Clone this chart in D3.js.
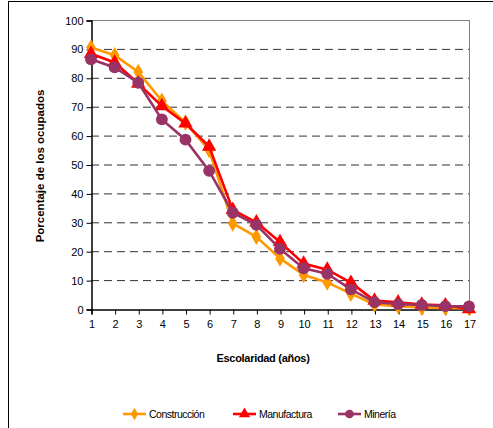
<!DOCTYPE html>
<html><head><meta charset="utf-8">
<script src="https://cdn.jsdelivr.net/npm/d3@7"></script>
<style>body{margin:0;background:#fff;overflow:hidden;}svg{display:block;font-family:Arial,"Liberation Sans",sans-serif;}</style>
</head><body>
<svg id="c" width="493" height="428"></svg>
<script>
const years = [1,2,3,4,5,6,7,8,9,10,11,12,13,14,15,16,17];
const construccion = [90.5,87.8,82,72,64.5,55,29.6,25,17.5,11.8,9.2,5.3,1.6,1,0.5,0.4,0.3];
const manufactura = [88.3,85.3,78,70.2,64.2,56.2,34.3,30,23.2,15.7,13.6,9.1,2.9,2.3,1.5,1.3,0];
const mineria = [86.4,83.6,78.3,65.6,58.6,47.8,33.3,29.1,20.8,14.1,12.2,6.8,2.4,1.7,1.4,1,0.9];
const yTicks = [0,10,20,30,40,50,60,70,80,90,100];
const seriesNames = ["Construcción","Manufactura","Minería"];
const seriesColors = ["#FF9900","#FF0000","#993366"];

const svg = d3.select("#c");
svg.append("rect").attr("x",8.5).attr("y",1.5).attr("width",540).attr("height",480)
  .attr("fill","#fff").attr("stroke","#000").attr("stroke-width",1);

const x = d3.scaleLinear().domain([1,17]).range([91,469]);
const y = d3.scaleLinear().domain([0,100]).range([309,20]);

svg.append("g").selectAll("line").data(yTicks.filter(d=>d>0 && d<100)).join("line")
  .attr("x1",91).attr("x2",469).attr("y1",d=>y(d)+0.5).attr("y2",d=>y(d)+0.5)
  .attr("stroke","#333").attr("stroke-dasharray","8,5").attr("stroke-width",1);
svg.append("line").attr("x1",91).attr("x2",469).attr("y1",y(100)+0.5).attr("y2",y(100)+0.5).attr("stroke","#808080");
svg.append("line").attr("x1",469.5).attr("x2",469.5).attr("y1",y(100)).attr("y2",y(0)).attr("stroke","#808080");

const yAxis = d3.axisLeft(y).tickValues(yTicks).tickSize(5).tickPadding(3);
const gy = svg.append("g").attr("transform","translate(91.5,0.5)").call(yAxis);
gy.selectAll("text").attr("font-size","11px").attr("fill","#000");
gy.select(".domain").attr("stroke","#000").attr("stroke-width",1.5);

const xAxis = d3.axisBottom(x).tickValues(years).tickSize(5).tickPadding(6).tickFormat(d3.format("d"));
const gx = svg.append("g").attr("transform","translate(0.5,309.5)").call(xAxis);
gx.selectAll("text").attr("font-size","11px").attr("fill","#000");
gx.select(".domain").attr("stroke","#000").attr("stroke-width",1.5);

svg.append("text").attr("x",263).attr("y",362).attr("text-anchor","middle")
  .attr("font-size","11px").attr("font-weight","bold").attr("letter-spacing","-0.3").text("Escolaridad (años)");
svg.append("text").attr("transform","translate(44,166) rotate(-90)").attr("text-anchor","middle")
  .attr("font-size","11.5px").attr("font-weight","bold").text("Porcentaje de los ocupados");

const datasets = [construccion, manufactura, mineria];
const line = d3.line().x((d,i)=>x(years[i])).y(d=>y(d));
const syms = [d3.symbol().type(d3.symbolDiamond).size(80), d3.symbol().type(d3.symbolTriangle).size(90), d3.symbol().type(d3.symbolCircle).size(110)];

datasets.forEach((ds,k)=>{
  const g = svg.append("g");
  g.append("path").datum(ds).attr("d",line).attr("fill","none")
    .attr("stroke",seriesColors[k]).attr("stroke-width",2.6);
  g.selectAll("path.m").data(ds).join("path").attr("class","m")
    .attr("transform",(d,i)=>`translate(${x(years[i])},${y(d)})`)
    .attr("d",syms[k]()).attr("fill",seriesColors[k]);
});

const legX = [123, 233, 338];
seriesNames.forEach((n,k)=>{
  const g = svg.append("g").attr("transform",`translate(${legX[k]},414)`);
  g.append("line").attr("x1",0).attr("x2",23).attr("stroke",seriesColors[k]).attr("stroke-width",2.6);
  g.append("path").attr("transform","translate(11.5,0)").attr("d",
    d3.symbol().type([d3.symbolDiamond,d3.symbolTriangle,d3.symbolCircle][k]).size([45,55,60][k])()).attr("fill",seriesColors[k]);
  g.append("text").attr("x",26).attr("y",4).attr("font-size","10.5px").attr("letter-spacing","-0.5").text(n);
});
</script>
</body></html>
